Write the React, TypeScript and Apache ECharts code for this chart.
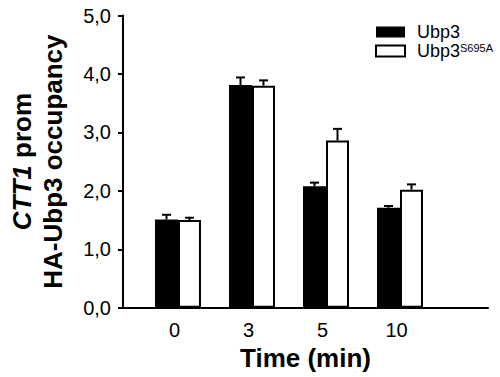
import { useEffect, useRef } from 'react';
import * as echarts from 'echarts';

const categories = ['0', '3', '5', '10'];
const ubp3 = [1.51, 3.81, 2.08, 1.71];
const ubp3Err = [0.08, 0.13, 0.06, 0.03];
const mutant = [1.5, 3.8, 2.86, 2.02];
const mutantErr = [0.04, 0.09, 0.2, 0.09];
const seriesNames = ['Ubp3', 'Ubp3S695A'];

const FONT = 'Liberation Sans, Arial, Helvetica, sans-serif';
const BAR_W = 23;

export default function App() {
  const ref = useRef<HTMLDivElement>(null);
  useEffect(() => {
    if (!ref.current) return;
    const chart = echarts.init(ref.current, undefined, { renderer: 'svg' });
    const errRender = (params: any, api: any) => {
      const x = api.value(0);
      const v = api.value(1);
      const e = api.value(2);
      const side = api.value(3);
      const base = api.coord([x, v]);
      const top = api.coord([x, v + e]);
      const px = base[0] + side * (BAR_W / 2);
      return {
        type: 'group',
        children: [
          { type: 'line', shape: { x1: px, y1: base[1], x2: px, y2: top[1] }, style: { stroke: '#000', lineWidth: 2 } },
          { type: 'line', shape: { x1: px - 4.5, y1: top[1], x2: px + 4.5, y2: top[1] }, style: { stroke: '#000', lineWidth: 2 } },
        ],
      };
    };
    chart.setOption({
      animation: false,
      backgroundColor: '#fff',
      textStyle: { fontFamily: FONT, color: '#000' },
      grid: { left: 123, right: 12, top: 15.5, bottom: 69.3, containLabel: false, outerBoundsMode: 'none' },
      legend: {
        orient: 'vertical',
        left: 370,
        top: 18,
        itemWidth: 29,
        itemHeight: 11,
        itemGap: 1,
        icon: 'rect',
        data: seriesNames,
        selectedMode: false,
        formatter: (name: string) => (name === 'Ubp3' ? '{a|Ubp3}' : '{a|Ubp3}{s|S695A}'),
        textStyle: {
          fontFamily: FONT,
          color: '#000',
          padding: [0, 0, 0, 7],
          rich: {
            a: { fontFamily: FONT, fontSize: 18, lineHeight: 18, color: '#000' },
            s: { fontFamily: FONT, fontSize: 11, lineHeight: 11, color: '#000', verticalAlign: 'top' },
          },
        },
      },
      xAxis: {
        type: 'value',
        min: -0.743,
        max: 4.189,
        splitLine: { show: false },
        axisLine: { show: true, onZero: false, lineStyle: { color: '#000', width: 2 } },
        axisTick: { show: false },
        axisLabel: {
          customValues: [0, 1, 2, 3],
          formatter: (v: number) => categories[Math.round(v)] ?? '',
          fontFamily: FONT,
          fontSize: 20,
          color: '#000',
          margin: 12,
          padding: [0, 7, 0, 0],
        },
        name: 'Time (min)',
        nameLocation: 'middle',
        nameGap: 37,
        nameTextStyle: { fontFamily: FONT, fontSize: 26, fontWeight: 'bold', color: '#000' },
      },
      yAxis: {
        type: 'value',
        min: 0,
        max: 5,
        interval: 1,
        splitLine: { show: false },
        axisLine: { show: true, onZero: false, lineStyle: { color: '#000', width: 2 } },
        axisTick: { show: true, length: 5, lineStyle: { color: '#000', width: 2 } },
        axisLabel: {
          formatter: (v: number) => v.toFixed(1).replace('.', ','),
          fontFamily: FONT,
          fontSize: 20,
          color: '#000',
          margin: 12,
        },
        name: '{i|CTT1}{b| prom}\n{b|HA-Ubp3 occupancy}',
        nameLocation: 'middle',
        nameRotate: 90,
        nameGap: 55,
        nameTextStyle: {
          fontFamily: FONT,
          fontSize: 26,
          fontWeight: 'bold',
          color: '#000',
          lineHeight: 31,
          rich: {
            i: { fontFamily: FONT, fontSize: 26, fontWeight: 'bold', fontStyle: 'italic', lineHeight: 31, color: '#000' },
            b: { fontFamily: FONT, fontSize: 26, fontWeight: 'bold', lineHeight: 31, color: '#000' },
          },
        },
      },
      series: [
        {
          name: seriesNames[0],
          type: 'bar',
          barWidth: BAR_W,
          barGap: '0%',
          data: ubp3.map((v, i) => [i, v]),
          itemStyle: { color: '#000' },
        },
        {
          name: seriesNames[1],
          type: 'bar',
          barWidth: BAR_W,
          barGap: '0%',
          data: mutant.map((v, i) => [i, v]),
          itemStyle: { color: '#fff', borderColor: '#000', borderWidth: 2 },
        },
        {
          type: 'custom',
          z: 5,
          renderItem: errRender,
          encode: { x: 0, y: 1 },
          data: ubp3.map((v, i) => [i, v, ubp3Err[i], -1]),
        },
        {
          type: 'custom',
          z: 5,
          renderItem: errRender,
          encode: { x: 0, y: 1 },
          data: mutant.map((v, i) => [i, v, mutantErr[i], 1]),
        },
      ],
    });
    return () => chart.dispose();
  }, []);
  return <div ref={ref} style={{ position: 'fixed', left: 0, top: 0, width: 500, height: 377 }} />;
}
